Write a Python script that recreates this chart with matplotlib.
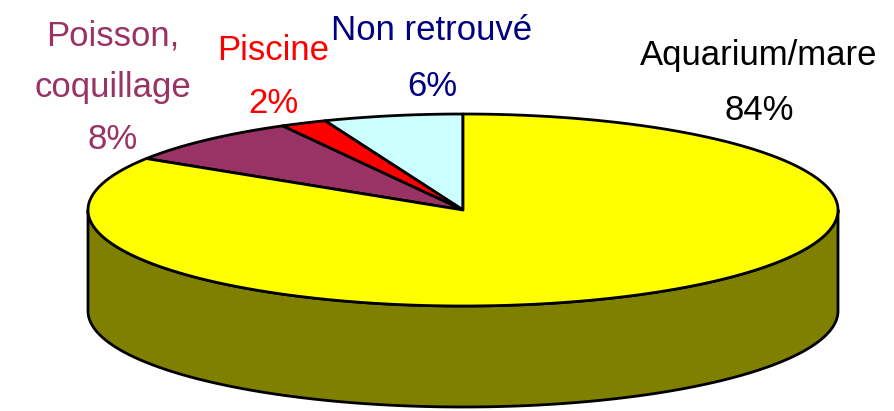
import numpy as np
import matplotlib
matplotlib.use("Agg")
import matplotlib.pyplot as plt
from matplotlib.patches import Polygon

# Categories listed counter-clockwise from 12 o'clock
categories = ["Non retrouvé", "Piscine", "Poisson, coquillage", "Aquarium/mare"]
shares = [6, 2, 8, 84]
top_colors = ["#CCFFFF", "#FF0000", "#993366", "#FFFF00"]
side_colors = ["#66807F", "#800000", "#4D1A33", "#808000"]
label_colors = ["#000080", "#FF0000", "#993366", "#000000"]
label_lines = [["Non retrouvé", "6%"], ["Piscine", "2%"],
               ["Poisson,", "coquillage", "8%"], ["Aquarium/mare", "84%"]]

W, H = 894, 411
fig = plt.figure(figsize=(W / 100, H / 100), dpi=100)
ax = fig.add_axes([0, 0, 1, 1])
ax.set_xlim(0, W)
ax.set_ylim(H, 0)
ax.axis("off")

cx, cy, a, b, depth = 463, 210, 375, 96, 101
lw = 2.0


def pt(t, dy=0.0):
    return cx + a * np.cos(t), cy - b * np.sin(t) + dy


# slice angle ranges (degrees, counter-clockwise from 90)
bounds = 90 + np.concatenate([[0], np.cumsum(shares)]) * 3.6

# side walls: only the front half (180..360 deg) is visible
for i in range(len(shares)):
    t0, t1 = bounds[i], bounds[i + 1]
    for k in range(-1, 3):
        lo = max(t0, 180 + 360 * k)
        hi = min(t1, 360 + 360 * k)
        if hi > lo:
            ts = np.radians(np.linspace(lo, hi, 200))
            xs, ys = pt(ts)
            xb, yb = pt(ts[::-1], depth)
            poly = np.column_stack([np.concatenate([xs, xb]), np.concatenate([ys, yb])])
            ax.add_patch(Polygon(poly, closed=True, facecolor=side_colors[i],
                                 edgecolor="black", lw=lw, joinstyle="round"))

# top faces
for i in range(len(shares)):
    ts = np.radians(np.linspace(bounds[i], bounds[i + 1], 400))
    xs, ys = pt(ts)
    poly = np.column_stack([np.concatenate([[cx], xs]), np.concatenate([[cy], ys])])
    ax.add_patch(Polygon(poly, closed=True, facecolor=top_colors[i],
                         edgecolor="black", lw=lw, joinstyle="round"))

# labels: (center x, baseline of first line, line spacing)
label_pos = [(432, 40, 56), (273, 60, 53), (113, 45, 52), (759, 65, 55)]
for lines, col, (x, y0, dy) in zip(label_lines, label_colors, label_pos):
    for j, s in enumerate(lines):
        ax.text(x, y0 + j * dy, s, ha="center", va="baseline", color=col,
                fontsize=25, family=["Liberation Sans", "DejaVu Sans"])

fig.savefig("out.png", dpi=100)
